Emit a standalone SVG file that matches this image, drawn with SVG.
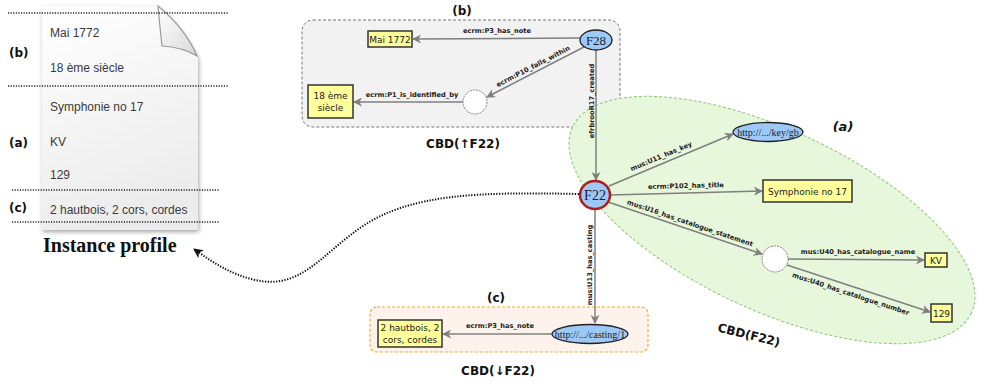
<svg xmlns="http://www.w3.org/2000/svg" width="985" height="387" viewBox="0 0 985 387">
<defs>
  <style>
    .dots{stroke:#222;stroke-width:1.6;stroke-dasharray:1.2,1.4;fill:none}
    .ptxt{font-family:"Liberation Sans",Arial,sans-serif;font-size:12px;fill:#3a3a3a}
    .sec{font-family:"DejaVu Sans",sans-serif;font-weight:bold;font-size:12px;fill:#111}
    .cbd{font-family:"DejaVu Sans",sans-serif;font-weight:bold;font-size:12px;fill:#111}
    .edge{stroke:#7f7f7f;stroke-width:1.5;fill:none;marker-end:url(#ah)}
    .el{font-family:"DejaVu Sans",sans-serif;font-weight:bold;font-size:6.7px;fill:#222}
    .box{fill:#ffff99;stroke:#333;stroke-width:1.5}
    .btxt{font-family:"DejaVu Sans",sans-serif;font-size:9px;fill:#222;text-anchor:middle}
    .blue{fill:#9cc9f7;stroke:#222;stroke-width:1.3}
    .stxt{font-family:"Liberation Serif","Times New Roman",serif;fill:#222;text-anchor:middle}
    .blank{fill:#fff;stroke:#666;stroke-width:0.8;stroke-dasharray:2,1}
  </style>
  <marker id="ah" viewBox="0 0 10 10" refX="9" refY="5" markerWidth="9" markerHeight="9" markerUnits="userSpaceOnUse" orient="auto">
    <path d="M0,0 L10,5 L0,10 L3,5 Z" fill="#7f7f7f"/>
  </marker>
  <marker id="bh" viewBox="0 0 10 10" refX="9" refY="5" markerWidth="10" markerHeight="10" markerUnits="userSpaceOnUse" orient="auto">
    <path d="M0,0 L10,5 L0,10 L3,5 Z" fill="#111"/>
  </marker>
  <linearGradient id="pg" x1="0" y1="0" x2="0.3" y2="1">
    <stop offset="0" stop-color="#ffffff"/>
    <stop offset="1" stop-color="#ececec"/>
  </linearGradient>
  <linearGradient id="fg" x1="0" y1="0" x2="1" y2="1">
    <stop offset="0" stop-color="#ffffff"/>
    <stop offset="1" stop-color="#d8d8d8"/>
  </linearGradient>
  <filter id="sh" x="-10%" y="-10%" width="130%" height="130%">
    <feDropShadow dx="1" dy="2" stdDeviation="2" flood-color="#000" flood-opacity="0.35"/>
  </filter>
</defs>

<!-- Instance profile document -->
<g id="instance-profile">
  <path d="M42,6 L158,6 Q185,30 198,58 L198,230 L42,230 Z" fill="url(#pg)" filter="url(#sh)"/>
  <path d="M158,6 Q160,28 162,46 Q182,47 197,56 Q185,28 158,6 Z" fill="url(#fg)" stroke="#9a9a9a" stroke-width="1.2"/>
  <line class="dots" x1="8" y1="13" x2="228" y2="13"/>
  <line class="dots" x1="8" y1="86" x2="229" y2="86"/>
  <line class="dots" x1="12" y1="190" x2="220" y2="190"/>
  <line class="dots" x1="12" y1="222" x2="220" y2="222"/>
  <text class="ptxt" x="50" y="37">Mai 1772</text>
  <text class="ptxt" x="50" y="72">18 ème siècle</text>
  <text class="ptxt" x="50" y="111">Symphonie no 17</text>
  <text class="ptxt" x="50" y="146">KV</text>
  <text class="ptxt" x="50" y="179">129</text>
  <text class="ptxt" x="50" y="214">2 hautbois, 2 cors, cordes</text>
  <text class="sec" x="9" y="57">(b)</text>
  <text class="sec" x="9" y="147">(a)</text>
  <text class="sec" x="9" y="212">(c)</text>
  <text x="43" y="252" font-family="'Liberation Serif','Times New Roman',serif" font-weight="bold" font-size="20" fill="#111">Instance profile</text>
</g>

<!-- Panel (b) -->
<g id="panel-b">
  <rect x="302" y="20" width="318" height="107" rx="11" fill="#f2f2f2" stroke="#777" stroke-width="1" stroke-dasharray="3,2"/>
  <text class="cbd" x="462" y="15" text-anchor="middle" font-size="13">(b)</text>
  <text class="cbd" x="463" y="148" text-anchor="middle">CBD(↑F22)</text>
</g>

<!-- Panel (a) -->
<g id="panel-a">
  <ellipse cx="772" cy="220" rx="220" ry="90" transform="rotate(25 772 220)" fill="#e6f7dc" stroke="#8cc57a" stroke-width="1" stroke-dasharray="3,2"/>
  <text x="843" y="131" font-family="'DejaVu Sans',sans-serif" font-weight="bold" font-style="italic" font-size="13" fill="#111" text-anchor="middle">(a)</text>
  <text class="cbd" font-size="14" text-anchor="middle" transform="translate(748,339) rotate(14)">CBD(F22)</text>
</g>

<!-- Panel (c) -->
<g id="panel-c">
  <rect x="370" y="307" width="278" height="45" rx="7" fill="#fdf3ec" stroke="#f0b030" stroke-width="1.2" stroke-dasharray="3,2"/>
  <text class="cbd" x="496" y="302" text-anchor="middle" font-size="13">(c)</text>
  <text class="cbd" x="498" y="375" text-anchor="middle">CBD(↓F22)</text>
</g>

<!-- Connectors -->
<g id="connectors">
  <line class="edge" x1="580" y1="38" x2="413" y2="39"/>
  <text class="el" x="497" y="33" text-anchor="middle">ecrm:P3_has_note</text>

  <line class="edge" x1="463" y1="102" x2="354" y2="102"/>
  <text class="el" x="412" y="97" text-anchor="middle">ecrm:P1_is_identified_by</text>

  <line class="edge" x1="584" y1="47" x2="487" y2="97"/>
  <text class="el" text-anchor="middle" transform="translate(536,72) rotate(-27.3)" y="-4">ecrm:P10_falls_within</text>

  <line class="edge" x1="596" y1="50" x2="596" y2="180"/>
  <text class="el" text-anchor="middle" transform="translate(596,101) rotate(-90)" y="-2.5">efrbrooR17_created</text>

  <line class="edge" x1="609" y1="186" x2="733" y2="134"/>
  <text class="el" text-anchor="middle" transform="translate(664,163) rotate(-22.8)" y="-5">mus:U11_has_key</text>

  <line class="edge" x1="610" y1="195" x2="762" y2="191"/>
  <text class="el" text-anchor="middle" transform="translate(686,193) rotate(-1.5)" y="-5">ecrm:P102_has_title</text>

  <line class="edge" x1="608" y1="202" x2="762" y2="254"/>
  <text class="el" text-anchor="middle" transform="translate(688,229) rotate(18.7)" y="-4">mus:U16_has_catalogue_statement</text>

  <line class="edge" x1="788" y1="259" x2="924" y2="260"/>
  <text class="el" x="858" y="254" text-anchor="middle">mus:U40_has_catalogue_name</text>

  <line class="edge" x1="787" y1="265" x2="930" y2="312"/>
  <text class="el" text-anchor="middle" transform="translate(853,287) rotate(18.2)" y="9.5">mus:U40_has_catalogue_number</text>

  <line class="edge" x1="595" y1="209" x2="595" y2="323"/>
  <text class="el" text-anchor="middle" transform="translate(595,265) rotate(-90)" y="-3">mus:U13_has_casting</text>

  <line class="edge" x1="552" y1="334" x2="443" y2="334"/>
  <text class="el" x="500" y="328" text-anchor="middle">ecrm:P3_has_note</text>

  <path d="M579,194 C480,192 410,193 360,228 C320,256 300,290 255,280 C230,274 212,262 194,249" stroke="#111" stroke-width="2" stroke-dasharray="1.3,1.5" fill="none" marker-end="url(#bh)"/>
</g>

<!-- Nodes -->
<g id="node-F28">
  <ellipse class="blue" cx="596" cy="40" rx="16" ry="10"/>
  <text class="stxt" x="596" y="44.5" font-size="13">F28</text>
</g>
<g id="node-mai1772">
  <rect class="box" x="368" y="31" width="44" height="16"/>
  <text class="btxt" x="390" y="42.5">Mai 1772</text>
</g>
<g id="node-blank-b">
  <circle class="blank" cx="475" cy="102" r="12"/>
</g>
<g id="node-18eme">
  <rect class="box" x="308" y="85" width="45" height="33"/>
  <text class="btxt" x="330.5" y="99">18 ème</text>
  <text class="btxt" x="330.5" y="111">siècle</text>
</g>
<g id="node-F22">
  <ellipse cx="595" cy="195" rx="15" ry="14" fill="#9cc9f7" stroke="#b01c1c" stroke-width="2.5"/>
  <text class="stxt" x="595" y="200" font-size="14">F22</text>
</g>
<g id="node-key">
  <ellipse class="blue" cx="768" cy="132" rx="35" ry="9.5"/>
  <text class="stxt" x="768" y="135.5" font-size="10">http://.../key/gb</text>
</g>
<g id="node-symphonie">
  <rect class="box" x="763" y="180" width="89" height="22"/>
  <text class="btxt" x="807.5" y="194.5">Symphonie no 17</text>
</g>
<g id="node-blank-a">
  <circle class="blank" cx="775" cy="259" r="13"/>
</g>
<g id="node-KV">
  <rect class="box" x="925" y="253" width="22" height="14"/>
  <text class="btxt" x="936" y="263.5">KV</text>
</g>
<g id="node-129">
  <rect class="box" x="931" y="304" width="21" height="18"/>
  <text class="btxt" x="941.5" y="316.5">129</text>
</g>
<g id="node-casting">
  <ellipse class="blue" cx="590" cy="334" rx="38" ry="9.5"/>
  <text class="stxt" x="590" y="337.5" font-size="10">http://.../casting/1</text>
</g>
<g id="node-hautbois">
  <rect class="box" x="378" y="320" width="64" height="27"/>
  <text class="btxt" x="410" y="331">2 hautbois, 2</text>
  <text class="btxt" x="410" y="343">cors, cordes</text>
</g>
</svg>
